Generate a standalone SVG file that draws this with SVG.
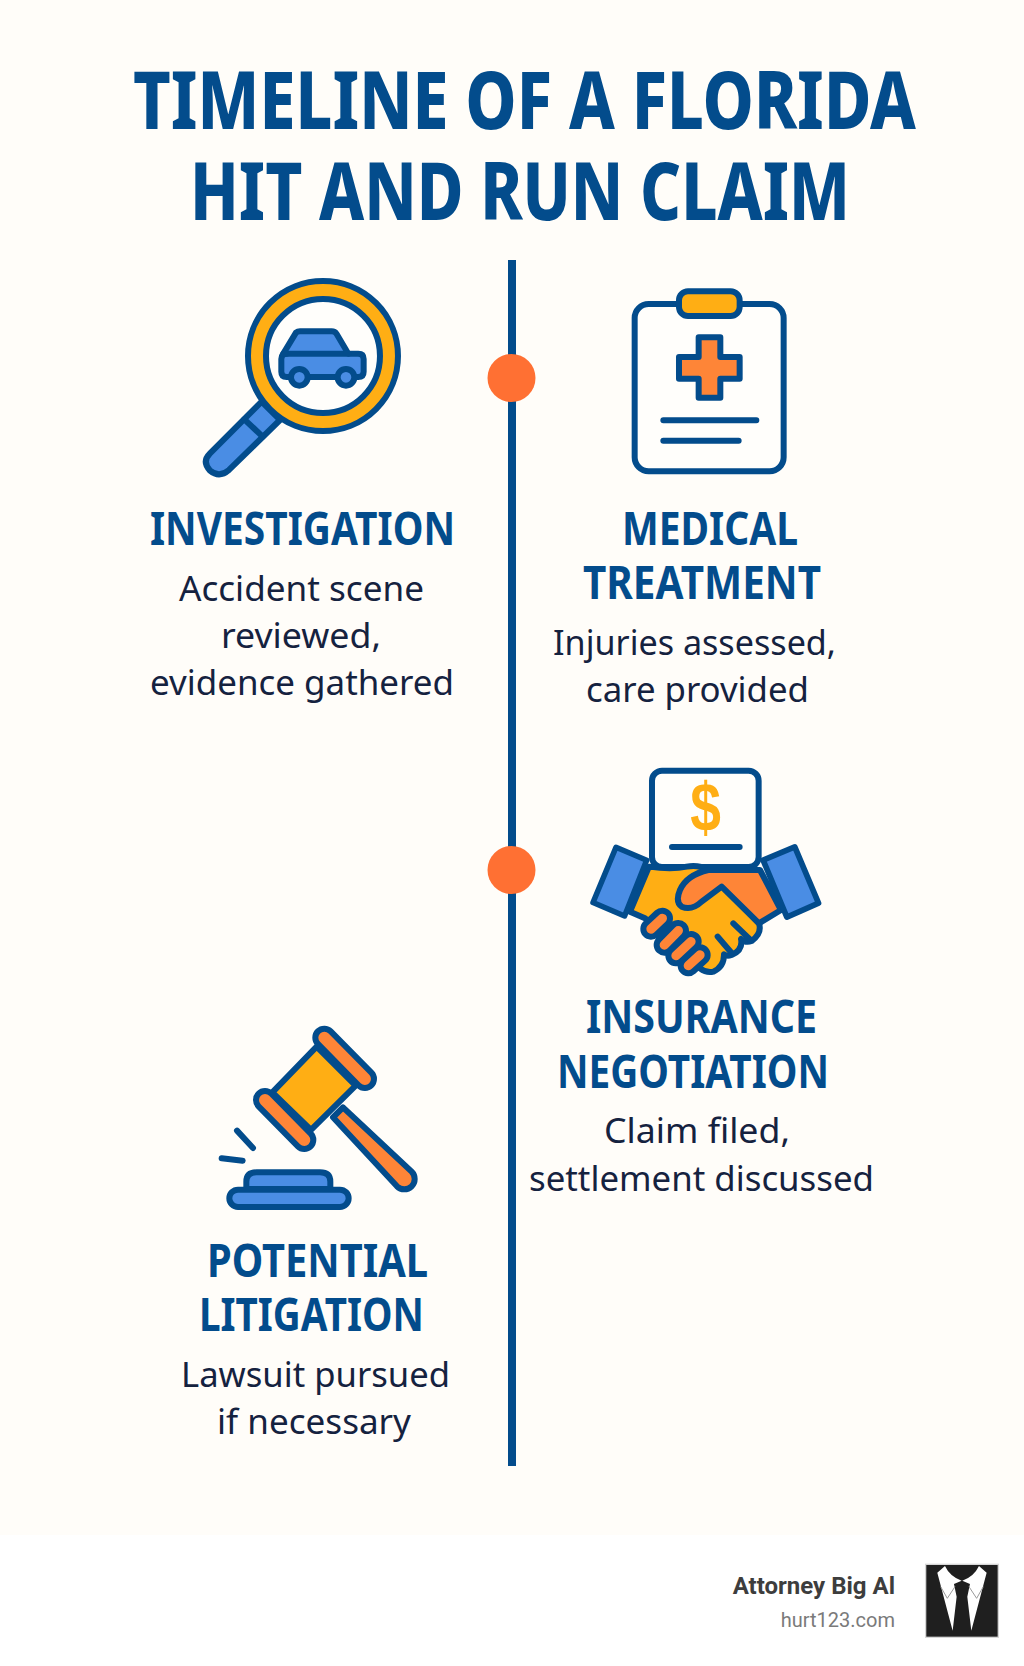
<svg xmlns="http://www.w3.org/2000/svg" width="1024" height="1666" viewBox="0 0 1024 1666">
<defs><style>
.ttl{font:800 81px "Noto Sans","Open Sans",sans-serif;fill:#034c8c}
.hd{font:700 47px "Noto Sans","Open Sans",sans-serif;fill:#034c8c}
.bd{font:400 35px "Noto Sans","Open Sans",sans-serif;fill:#15223f}
.ol{stroke:#034c8c;stroke-width:18;stroke-linejoin:round;stroke-linecap:round}
.nv{fill:none}
.bl{fill:#4a8de4}.gd{fill:#ffae14}.or{fill:#fe8537}.wh{fill:#fffefb}
.dot{fill:#ff7033}
</style></defs>
<rect width="1024" height="1666" fill="#ffffff"/>
<rect width="1024" height="1535" fill="#fffdf9"/>
<g id="title">
<text class="ttl" x="133" y="129" textLength="783" lengthAdjust="spacingAndGlyphs">TIMELINE OF A FLORIDA</text>
<text class="ttl" x="190" y="220" textLength="660" lengthAdjust="spacingAndGlyphs">HIT AND RUN CLAIM</text>
</g>
<g id="connectors">
<line x1="512" y1="260" x2="512" y2="1466" stroke="#034c8c" stroke-width="8"/>
</g>
<g id="dot-1"><circle class="dot" cx="511.500" cy="378" r="24"/></g>
<g id="dot-2"><circle class="dot" cx="511.500" cy="870" r="24"/></g>
<g id="investigation">
<g transform="translate(180 260) scale(.3333)">
<path class="ol bl" d="M245,425 L300,480 L147,630 Q118,655 90,632 Q65,605 90,580 Z"/>
<path class="ol nv" d="M193,478 L248,530"/>
<circle class="ol gd" cx="429" cy="288" r="225"/>
<circle class="ol wh" cx="429" cy="288" r="171"/>
<path class="ol bl" d="M310,281 L348,218 Q353,214 360,214 H455 Q465,214 470,222 L505,281 H535 Q551,281 551,297 V335 Q551,351 535,351 H320 Q304,351 304,335 V297 Q304,281 320,281 Z"/>
<path class="ol nv" d="M310,281 H505"/>
<circle class="ol bl" cx="358" cy="352" r="25"/>
<circle class="ol bl" cx="498" cy="352" r="25"/>
</g>
<text class="hd" x="150" y="545" textLength="305" lengthAdjust="spacingAndGlyphs">INVESTIGATION</text>
<text class="bd" x="179" y="601" textLength="245" lengthAdjust="spacingAndGlyphs">Accident scene</text>
<text class="bd" x="221" y="648" textLength="160" lengthAdjust="spacingAndGlyphs">reviewed,</text>
<text class="bd" x="150" y="695" textLength="304" lengthAdjust="spacingAndGlyphs">evidence gathered</text>
</g>
<g id="medical-treatment">
<g transform="translate(600 270) scale(.3333)">
<rect class="ol wh" x="104" y="102" width="447" height="502" rx="42"/>
<rect class="ol gd" x="237" y="64" width="182" height="74" rx="27"/>
<path class="ol or" d="M296,202 H361 V261 H419 V326 H361 V383 H296 V326 H237 V261 H296 Z"/>
<path class="ol nv" d="M190,451 H469 M190,512 H416"/>
</g>
<text class="hd" x="622" y="545" textLength="176" lengthAdjust="spacingAndGlyphs">MEDICAL</text>
<text class="hd" x="583" y="599" textLength="238" lengthAdjust="spacingAndGlyphs">TREATMENT</text>
<text class="bd" x="553" y="655" textLength="283" lengthAdjust="spacingAndGlyphs">Injuries assessed,</text>
<text class="bd" x="586" y="702" textLength="223" lengthAdjust="spacingAndGlyphs">care provided</text>
</g>
<g id="insurance-negotiation">
<g transform="translate(575 755) scale(.3333)">
<rect class="ol wh" x="231" y="47" width="320" height="289" rx="30"/>
<text x="346" y="227" textLength="92" lengthAdjust="spacingAndGlyphs" font-family="Liberation Sans, Arial, sans-serif" font-weight="700" font-size="205" class="gd">$</text>
<path class="ol nv" d="M291,276 H494"/>
<path class="ol gd" d="M222,335 Q290,345 335,335 Q370,328 400,345 L552,505 Q562,535 530,558 Q512,565 498,552 Q505,585 470,600 Q455,605 447,598 Q448,635 415,650 Q395,655 375,640 L210,490 L165,470 Z"/>
<path class="ol or" d="M400,345 H555 L618,465 L552,505 L440,395 L380,440 Q350,468 320,455 Q300,440 315,405 Q335,360 400,345 Z"/>
<path class="ol nv" d="M428,545 L468,592 M475,505 L525,553"/>
<path class="bl" d="M122,268 L222,310 L150,492 L47,448 Z" stroke="#034c8c" stroke-width="18" stroke-linejoin="round" transform="translate(134.500 380) scale(.92) translate(-134.500 -380)"/>
<path class="bl" d="M660,270 L735,448 L635,492 L560,312 Z" stroke="#034c8c" stroke-width="18" stroke-linejoin="round" transform="translate(648 381) scale(.95) translate(-648 -381)"/>
<path d="M228,522 L262,490 M268,570 L310,527 M303,602 L348,560 M340,632 L375,600" fill="none" stroke="#034c8c" stroke-width="64" stroke-linecap="round"/>
<path d="M228,522 L262,490 M268,570 L310,527 M303,602 L348,560 M340,632 L375,600" fill="none" stroke="#fe8537" stroke-width="28" stroke-linecap="round"/>
</g>
<text class="hd" x="586" y="1033" textLength="231" lengthAdjust="spacingAndGlyphs">INSURANCE</text>
<text class="hd" x="557" y="1088" textLength="272" lengthAdjust="spacingAndGlyphs">NEGOTIATION</text>
<text class="bd" x="604" y="1143" textLength="186" lengthAdjust="spacingAndGlyphs">Claim filed,</text>
<text class="bd" x="529" y="1191" textLength="345" lengthAdjust="spacingAndGlyphs">settlement discussed</text>
</g>
<g id="potential-litigation">
<g transform="translate(205 1015) scale(.3333)">
<path class="ol or" d="M414,277 L620,470 A31,31 0 0 1 576,514 L384,307 Z"/>
<path d="M358,68 L480,192 M180,255 L298,375" fill="none" stroke="#034c8c" stroke-width="72" stroke-linecap="round"/>
<path d="M358,68 L480,192 M180,255 L298,375" fill="none" stroke="#fe8537" stroke-width="36" stroke-linecap="round"/>
<path class="ol gd" d="M335,95 L452,212 L318,345 L202,232 Z"/>
<path class="ol nv" d="M96,347 L144,399 M50,430 L113,437"/>
<path class="ol bl" d="M124,522 V500 Q124,472 155,472 H345 Q376,472 376,500 V522 Z"/>
<rect class="ol bl" x="73" y="524" width="358" height="52" rx="26"/>
</g>
<text class="hd" x="207" y="1277" textLength="221" lengthAdjust="spacingAndGlyphs">POTENTIAL</text>
<text class="hd" x="199" y="1331" textLength="225" lengthAdjust="spacingAndGlyphs">LITIGATION</text>
<text class="bd" x="181" y="1387" textLength="269" lengthAdjust="spacingAndGlyphs">Lawsuit pursued</text>
<text class="bd" x="217" y="1434" textLength="194" lengthAdjust="spacingAndGlyphs">if necessary</text>
</g>
<g id="brand">
<text x="895" y="1594" text-anchor="end" font-family="Roboto, sans-serif" font-weight="700" font-size="24" fill="#3d3d3d">Attorney Big Al</text>
<text x="895" y="1627" text-anchor="end" font-family="Roboto, sans-serif" font-size="20" fill="#7a7a7a">hurt123.com</text>
<g transform="translate(700 1530) scale(.3333)">
<rect x="677" y="103" width="218" height="219" fill="#1f1f1f" stroke="#d6d6d6" stroke-width="4"/>
<path d="M735,108 Q750,140 785,152 L762,162 L770,200 L758,302 L712,128 Z M837,108 Q822,140 787,152 L810,162 L802,200 L814,302 L860,128 Z" fill="#ffffff"/>
<path d="M722,170 L742,205 L765,170 M850,170 L830,205 L807,170" fill="none" stroke="#9a9a9a" stroke-width="3"/>
</g>
</g>
</svg>
